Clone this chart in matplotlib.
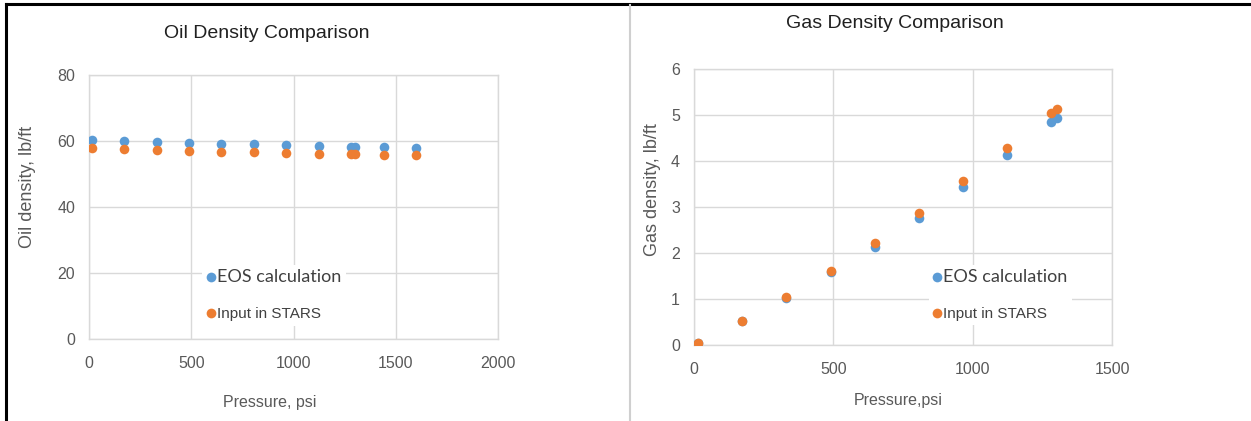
import numpy as np
import matplotlib
matplotlib.use('Agg')
import matplotlib.pyplot as plt
from matplotlib.lines import Line2D

# Oil density data (psi, lb/ft)
oil_p = [13, 173, 331, 489, 647, 805, 963, 1123, 1280, 1301, 1441, 1597]
oil_eos = [60.2, 60.0, 59.8, 59.5, 59.2, 59.0, 58.8, 58.5, 58.3, 58.3, 58.2, 58.0]
oil_stars = [57.8, 57.6, 57.3, 57.0, 56.8, 56.6, 56.4, 56.2, 56.0, 56.0, 55.9, 55.8]

# Gas density data
gas_p = [14, 173, 331, 490, 648, 807, 966, 1123, 1282, 1302]
gas_eos = [0.05, 0.52, 1.03, 1.58, 2.14, 2.77, 3.43, 4.13, 4.85, 4.93]
gas_stars = [0.05, 0.53, 1.04, 1.60, 2.21, 2.87, 3.56, 4.29, 5.04, 5.14]

BLUE = '#5B9BD5'
ORANGE = '#ED7D31'
GRID = '#D9D9D9'
TXT = '#595959'

plt.rcParams['font.family'] = ['Liberation Sans', 'DejaVu Sans']

W, H = 1251, 421
fig = plt.figure(figsize=(W / 100, H / 100), dpi=100)


def px_axes(x0, x1, y_top, y_bot):
    return fig.add_axes([x0 / W, 1 - y_bot / H, (x1 - x0) / W, (y_bot - y_top) / H])


def style(ax, xlim, xticks, ylim, yticks):
    ax.set_xlim(*xlim)
    ax.set_ylim(*ylim)
    ax.set_xticks(xticks)
    ax.set_yticks(yticks)
    ax.grid(True, color=GRID, linewidth=1.0)
    ax.set_axisbelow(True)
    for s in ax.spines.values():
        s.set_color(GRID)
        s.set_linewidth(1.0)
    ax.tick_params(length=0, labelsize=11.5, labelcolor=TXT, pad=10)
    ax.tick_params(axis='x', pad=12)


def add_legend(ax, anchor):
    h = [Line2D([0], [0], marker='o', color='none', markerfacecolor=BLUE,
                markeredgecolor='none', markersize=7),
         Line2D([0], [0], marker='o', color='none', markerfacecolor=ORANGE,
                markeredgecolor='none', markersize=7)]
    leg = ax.legend(h, ['EOS calculation', 'Input in STARS'], loc='center left',
                    bbox_to_anchor=anchor, frameon=True, framealpha=1,
                    edgecolor='none', fancybox=False, handlelength=0.5,
                    handletextpad=0.15, borderpad=0.3, labelspacing=1.42,
                    fontsize=11)
    t0, t1 = leg.get_texts()
    t0.set_fontfamily(['Lato', 'DejaVu Sans'])
    t0.set_fontsize(13)
    t0.set_color('#404040')
    t1.set_color('#404040')
    t1.set_fontsize(11)
    return leg


# Left: oil
ax1 = px_axes(89, 498, 75, 339)
ax1.scatter(oil_p, oil_eos, s=48, color=BLUE, zorder=3, linewidths=0)
ax1.scatter(oil_p, oil_stars, s=48, color=ORANGE, zorder=3, linewidths=0)
style(ax1, (0, 2000), [0, 500, 1000, 1500, 2000], (0, 80), [0, 20, 40, 60, 80])
add_legend(ax1, (0.258, 0.166))

# Right: gas
ax2 = px_axes(694, 1112, 69, 345)
ax2.scatter(gas_p, gas_eos, s=48, color=BLUE, zorder=3, linewidths=0)
ax2.scatter(gas_p, gas_stars, s=48, color=ORANGE, zorder=3, linewidths=0)
style(ax2, (0, 1500), [0, 500, 1000, 1500], (0, 6), [0, 1, 2, 3, 4, 5, 6])
add_legend(ax2, (0.543, 0.181))

# Titles and axis labels
fig.text(267 / W, 1 - 33 / H, 'Oil Density Comparison', ha='center', va='center',
         fontsize=14, color='#202020')
fig.text(895 / W, 1 - 23 / H, 'Gas Density Comparison', ha='center', va='center',
         fontsize=14, color='#202020')
fig.text(27 / W, 1 - 187 / H, 'Oil density, lb/ft', rotation=90, ha='center',
         va='center', fontsize=13, color=TXT)
fig.text(652 / W, 1 - 190 / H, 'Gas density, lb/ft', rotation=90, ha='center',
         va='center', fontsize=13, color=TXT)
fig.text(270 / W, 1 - 402 / H, 'Pressure, psi', ha='center', va='center',
         fontsize=11.5, color=TXT)
fig.text(898 / W, 1 - 400 / H, 'Pressure,psi', ha='center', va='center',
         fontsize=11.5, color=TXT)

# Outer frame and panel divider
fig.add_artist(Line2D([6 / W, 1], [1 - 4 / H, 1 - 4 / H], color='black', linewidth=2.2))
fig.add_artist(Line2D([6 / W, 6 / W], [0, 1 - 4 / H], color='black', linewidth=2.2))
fig.add_artist(Line2D([630 / W, 630 / W], [0, 1 - 5 / H], color='#CFCFCF', linewidth=1.5))

fig.savefig('out.png', dpi=100)
